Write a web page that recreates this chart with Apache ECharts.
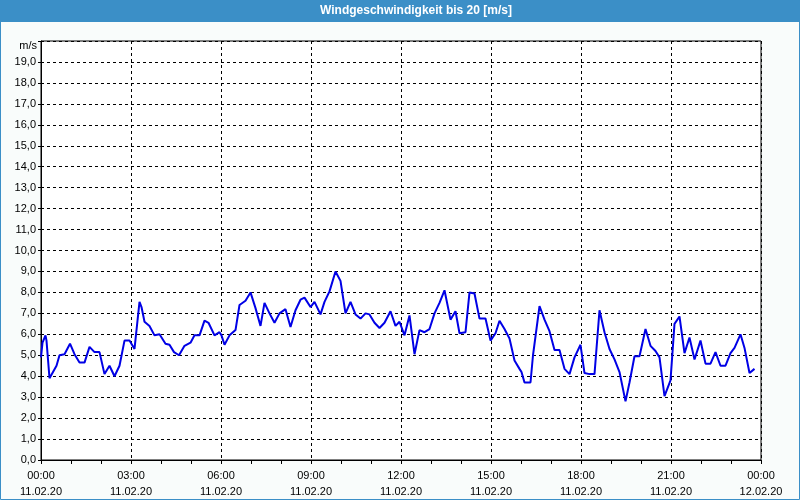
<!DOCTYPE html>
<html>
<head>
<meta charset="utf-8">
<script src="https://cdn.jsdelivr.net/npm/echarts@6/dist/echarts.min.js"></script>
<style>
html,body{margin:0;padding:0;background:#f9fcfb;}
#c{width:800px;height:500px;}
</style>
</head>
<body>
<div id="c"></div>
<script>
// time in minutes after 11.02.20 00:00
const minutes = [0,3,9,11,17,21,31,37,47,58,67,77,87,97,107,117,127,137,147,157,167,177,187,197,201,207,217,227,237,
241,249,257,266,276,287,299,307,317,327,335,347,357,361,367,377,389,397,409,419,429,439,447,457,467,477,
481,489,499,509,519,527,539,547,559,567,577,589,599,609,619,629,639,649,657,667,677,687,699,709,717,
727,737,741,747,757,767,777,787,797,807,819,829,837,849,857,867,877,889,899,909,917,927,937,947,957,
961,967,979,984,997,1007,1017,1027,1037,1047,1057,1067,1079,1087,1097,1107,1117,1127,1137,1147,1157,1169,1177,1187,1197,
1209,1219,1229,1237,1247,1259,1267,1277,1287,1297,1307,1319,1329,1339,1349,1359,1369,1379,1387,1399,1407,1417,1427];
const windSpeed = [4.9,5.6,5.95,5.7,3.9,3.95,4.5,5.0,5.05,5.55,5.05,4.65,4.65,5.4,5.15,5.15,4.1,4.5,4.0,4.5,5.7,5.7,5.3,7.55,7.3,6.6,6.4,5.95,6.0,
5.95,5.55,5.5,5.15,5.0,5.45,5.6,5.95,5.95,6.65,6.55,5.95,6.1,5.95,5.5,5.95,6.2,7.4,7.6,8.0,7.25,6.4,7.5,7.0,6.55,7.0,
7.05,7.2,6.35,7.15,7.65,7.75,7.3,7.55,6.95,7.55,8.05,9.0,8.55,7.0,7.55,6.95,6.75,7.0,6.95,6.55,6.3,6.55,7.1,6.4,6.6,
5.95,6.9,6.85,5.05,6.2,6.1,6.25,7.0,7.5,8.1,6.7,7.1,6.05,6.1,8.0,7.95,6.75,6.75,5.7,6.05,6.65,6.25,5.8,4.75,4.35,
4.2,3.7,3.7,5.0,7.35,6.7,6.15,5.25,5.25,4.35,4.1,4.9,5.5,4.15,4.1,4.1,7.15,6.1,5.3,4.8,4.2,2.8,3.7,4.95,4.95,
6.25,5.45,5.2,4.9,3.05,3.8,6.5,6.85,5.1,5.85,4.8,5.7,4.6,4.6,5.15,4.5,4.5,5.1,5.35,6.0,5.35,4.15,4.35];
const timeLabels = ['00:00','03:00','06:00','09:00','12:00','15:00','18:00','21:00','00:00'];
const dateLabels = ['11.02.20','11.02.20','11.02.20','11.02.20','11.02.20','11.02.20','11.02.20','11.02.20','12.02.20'];
const titleText = 'Windgeschwindigkeit bis 20 [m/s]';
const unitText = 'm/s';

const chart = echarts.init(document.getElementById('c'), null, {renderer:'canvas'});
const font = 'Liberation Sans';
chart.setOption({
  backgroundColor: '#f9fcfb',
  animation: false,
  graphic: [
    {type:'rect', shape:{x:0,y:0,width:800,height:22}, style:{fill:'#3b8fc7'}, z:0},
    {type:'rect', shape:{x:0.5,y:0.5,width:799,height:499}, style:{fill:null, stroke:'#3b8fc7', lineWidth:1}, z:0},
    {type:'text', x:416, y:11, style:{text:titleText, fill:'#ffffff', font:'bold 12px "Liberation Sans"', align:'center', verticalAlign:'middle'}, z:5},
    {type:'text', x:37, y:46, style:{text:unitText, fill:'#000000', font:'11px "Liberation Sans"', align:'right', verticalAlign:'middle'}, z:5}
  ],
  grid: {left:41, top:41, right:39, bottom:39, show:true, borderColor:'#000', borderWidth:1, backgroundColor:'#fff'},
  xAxis: {
    type:'value', min:0, max:1440, interval:180,
    axisLine:{show:true, lineStyle:{color:'#000', width:1}},
    axisTick:{show:true, length:4, lineStyle:{color:'#000'}},
    minorTick:{show:true, splitNumber:3, length:4, lineStyle:{color:'#000'}},
    splitLine:{show:true, lineStyle:{color:'#000', type:[3,3], width:1}},
    axisLabel:{
      margin:8, color:'#000', fontFamily:font, fontSize:11, lineHeight:16,
      formatter: function(v){ const i = Math.round(v/180); return timeLabels[i] + '\n' + dateLabels[i]; }
    }
  },
  yAxis: {
    type:'value', min:0, max:20, interval:1,
    axisLine:{show:true, lineStyle:{color:'#000', width:1}},
    axisTick:{show:true, length:3, lineStyle:{color:'#000'}},
    splitLine:{show:true, lineStyle:{color:'#000', type:[3,3], width:1}},
    axisLabel:{
      margin:5, color:'#000', fontFamily:font, fontSize:11,
      formatter: function(v){ return v >= 20 ? '' : v.toFixed(1).replace('.', ','); }
    }
  },
  series: [{
    type:'line',
    data: minutes.map((m,i)=>[m, windSpeed[i]]),
    showSymbol:false, symbol:'none',
    lineStyle:{color:'#0000e6', width:2},
    z:3
  }]
});
</script>
</body>
</html>
